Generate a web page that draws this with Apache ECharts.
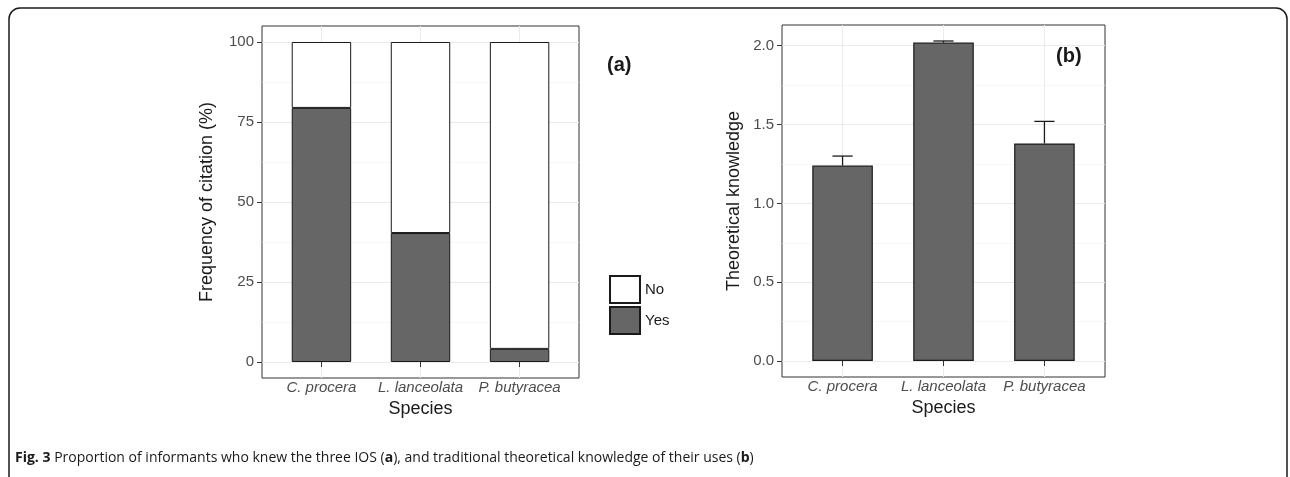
<!DOCTYPE html>
<html>
<head>
<meta charset="utf-8">
<title>Fig. 3</title>
<script src="https://cdn.jsdelivr.net/npm/echarts@6/dist/echarts.min.js"></script>
<style>
  html, body { margin: 0; padding: 0; background: #ffffff; }
  #chart { width: 1290px; height: 477px; }
</style>
</head>
<body>
<div id="chart"></div>
<script>
// Species studied
const categories = ['C. procera', 'L. lanceolata', 'P. butyracea'];

// Panel (a): share of informants citing each species (%)
const yesPct = [79.4, 40.3, 4.1];
const noPct = [20.6, 59.7, 95.9];
const freqTicks = [0, 25, 50, 75, 100];
const freqMinor = [12.5, 37.5, 62.5, 87.5];

// Panel (b): theoretical knowledge score, mean and standard error
const knowMean = [1.24, 2.02, 1.38];
const knowSe = [0.06, 0.01, 0.14];
const knowTicks = [0, 0.5, 1.0, 1.5, 2.0];
const knowMinor = [0.25, 0.75, 1.25, 1.75];

const positions = categories.map((c, i) => i + 1);

const FONT = 'Liberation Sans, Arial, sans-serif';
const TICK_SIZE = 15;
const TITLE_SIZE = 18;
const X_MIN = 0.4, X_MAX = 3.6;   // discrete scale padded by 0.6 on each side
const GRID_A = { left: 262, top: 26, width: 317, height: 352 };
const GRID_B = { left: 782, top: 25, width: 323, height: 352 };
const unitA = GRID_A.width / (X_MAX - X_MIN);
// inner grid holding the stacked bars: one band per species
const GRID_A_BARS = {
  left: GRID_A.left + (1 - X_MIN - 0.5) * unitA,
  top: GRID_A.top, width: unitA * categories.length, height: GRID_A.height
};
const barPx = g => 0.6 * g.width / (X_MAX - X_MIN);

function catAxis(gridIndex) {
  return {
    type: 'value', gridIndex, min: X_MIN, max: X_MAX,
    axisLine: { show: false },
    axisTick: { show: true, customValues: positions, length: 5, lineStyle: { color: '#333333', width: 1 } },
    axisLabel: {
      customValues: positions, margin: 2,
      formatter: v => categories[Math.round(v) - 1] || '',
      fontFamily: FONT, fontSize: TICK_SIZE, fontStyle: 'italic', color: '#4D4D4D'
    },
    splitLine: { show: true, lineStyle: { color: '#EBEBEB', width: 1 } },
    name: 'Species', nameLocation: 'middle', nameGap: 21,
    nameTextStyle: { fontFamily: FONT, fontSize: TITLE_SIZE, color: '#1A1A1A' }
  };
}

function valAxis(gridIndex, min, max, ticks, fmt, name, gap) {
  return {
    type: 'value', gridIndex, min, max, position: 'left',
    axisLine: { show: false },
    axisTick: { show: true, customValues: ticks, length: 5, lineStyle: { color: '#333333', width: 1 } },
    axisLabel: {
      customValues: ticks, margin: 8, formatter: fmt,
      fontFamily: FONT, fontSize: TICK_SIZE, color: '#4D4D4D'
    },
    splitLine: { show: true, lineStyle: { color: '#EBEBEB', width: 1 } },
    name, nameLocation: 'middle', nameGap: gap,
    nameTextStyle: { fontFamily: FONT, fontSize: TITLE_SIZE, color: '#1A1A1A' }
  };
}

function minorAxis(gridIndex, min, max, ticks) {
  return {
    type: 'value', gridIndex, min, max, position: 'left',
    axisLine: { show: false },
    axisTick: { show: false, customValues: ticks },
    axisLabel: { show: false, customValues: ticks },
    splitLine: { show: true, lineStyle: { color: '#F2F2F2', width: 0.6 } }
  };
}

const chart = echarts.init(document.getElementById('chart'), null, { renderer: 'canvas' });

const frame = { show: true, borderColor: '#333333', borderWidth: 1, backgroundColor: '#ffffff' };

const option = {
  animation: false,
  backgroundColor: '#ffffff',
  grid: [
    Object.assign({}, frame, GRID_A),
    Object.assign({}, frame, GRID_B),
    Object.assign({ show: false }, GRID_A_BARS)
  ],
  xAxis: [
    catAxis(0),
    catAxis(1),
    { type: 'category', gridIndex: 2, data: categories, show: false }
  ],
  yAxis: [
    valAxis(0, -5, 105, freqTicks, v => String(v), 'Frequency of citation (%)', 46),
    minorAxis(0, -5, 105, freqMinor),
    valAxis(1, -0.1015, 2.1315, knowTicks, v => v.toFixed(1), 'Theoretical knowledge', 39),
    minorAxis(1, -0.1015, 2.1315, knowMinor),
    { type: 'value', gridIndex: 2, min: -5, max: 105, show: false, splitLine: { show: false } }
  ],
  legend: {
    orient: 'vertical', left: 604, top: 270,
    itemWidth: 30, itemHeight: 27, itemGap: 2,
    icon: 'rect',
    data: ['No', 'Yes'],
    textStyle: { fontFamily: FONT, fontSize: TICK_SIZE, color: '#1A1A1A' }
  },
  series: [
    {
      name: 'Yes', type: 'bar', xAxisIndex: 2, yAxisIndex: 4, stack: 'freq',
      barWidth: '60%',
      data: yesPct,
      itemStyle: { color: '#666666', borderColor: '#1A1A1A', borderWidth: 1 }
    },
    {
      name: 'No', type: 'bar', xAxisIndex: 2, yAxisIndex: 4, stack: 'freq',
      barWidth: '60%',
      data: noPct,
      itemStyle: { color: '#ffffff', borderColor: '#1A1A1A', borderWidth: 1 }
    },
    {
      name: 'Knowledge', type: 'bar', xAxisIndex: 1, yAxisIndex: 2,
      barWidth: barPx(GRID_B),
      data: positions.map((x, i) => [x, knowMean[i]]),
      itemStyle: { color: '#666666', borderColor: '#1A1A1A', borderWidth: 1.2 },
      z: 2
    },
    {
      name: 'SE', type: 'custom', xAxisIndex: 1, yAxisIndex: 2, z: 3,
      data: positions.map((x, i) => [x, knowMean[i], knowMean[i] + knowSe[i]]),
      encode: { x: 0, y: [1, 2] },
      renderItem: function (params, api) {
        const x = api.value(0);
        const base = api.coord([x, api.value(1)]);
        const top = api.coord([x, api.value(2)]);
        const half = api.size([0.1, 0])[0];
        const style = { stroke: '#1A1A1A', lineWidth: 1.3 };
        return {
          type: 'group',
          children: [
            { type: 'line', shape: { x1: base[0], y1: base[1], x2: top[0], y2: top[1] }, style },
            { type: 'line', shape: { x1: top[0] - half, y1: top[1], x2: top[0] + half, y2: top[1] }, style }
          ]
        };
      }
    }
  ],
  graphic: [
    {
      type: 'rect', silent: true, z: 0,
      shape: { x: 9, y: 8, width: 1278, height: 520, r: 11 },
      style: { fill: 'none', stroke: '#1A1A1A', lineWidth: 1.5 }
    },
    {
      type: 'text', left: 607, top: 55,
      style: { text: '(a)', font: 'bold 20px ' + FONT, fill: '#1A1A1A' }
    },
    {
      type: 'text', left: 1056, top: 46,
      style: { text: '(b)', font: 'bold 20px ' + FONT, fill: '#1A1A1A' }
    },
    {
      type: 'text', left: 15, top: 451,
      style: {
        text: '{b|Fig. 3} Proportion of informants who knew the three IOS ({b|a}), and traditional theoretical knowledge of their uses ({b|b})',
        fontFamily: 'Open Sans, Noto Sans, sans-serif', fontSize: 14, fill: '#1A1A1A',
        rich: { b: { fontFamily: 'Open Sans, Noto Sans, sans-serif', fontSize: 14, fontWeight: 'bold', fill: '#1A1A1A' } }
      }
    }
  ]
};

chart.setOption(option);
</script>
</body>
</html>
